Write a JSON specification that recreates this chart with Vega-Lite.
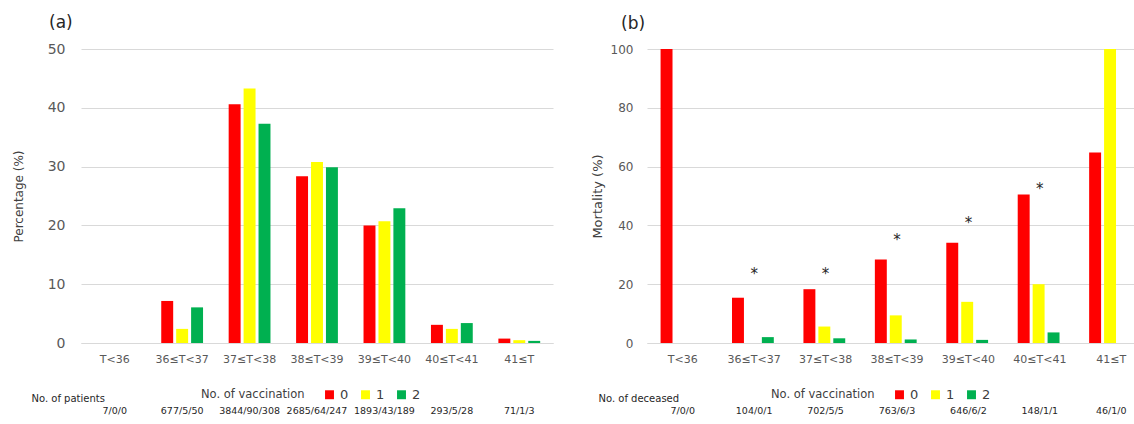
{
  "$schema": "https://vega.github.io/schema/vega-lite/v6.json",
  "background": "white",
  "padding": {"left": 12, "top": 14, "right": 0, "bottom": 0},
  "spacing": 38,
  "config": {
    "view": {"stroke": null},
    "font": "DejaVu Sans",
    "axis": {"labelColor": "#595959", "titleColor": "#404040", "gridColor": "#D9D9D9", "domainColor": "#D9D9D9", "ticks": false, "titleFontWeight": "normal"},
    "legend": {"titleFontWeight": "normal", "titleColor": "#404040", "labelColor": "#404040"},
    "title": {"fontWeight": "normal", "color": "#262626"}
  },
  "datasets": {
    "pct": [
      {"cat": "T<36", "vac": "0", "value": 0},
      {"cat": "T<36", "vac": "1", "value": 0},
      {"cat": "T<36", "vac": "2", "value": 0},
      {"cat": "36≤T<37", "vac": "0", "value": 7.15},
      {"cat": "36≤T<37", "vac": "1", "value": 2.4},
      {"cat": "36≤T<37", "vac": "2", "value": 6.06},
      {"cat": "37≤T<38", "vac": "0", "value": 40.6},
      {"cat": "37≤T<38", "vac": "1", "value": 43.3},
      {"cat": "37≤T<38", "vac": "2", "value": 37.3},
      {"cat": "38≤T<39", "vac": "0", "value": 28.35},
      {"cat": "38≤T<39", "vac": "1", "value": 30.8},
      {"cat": "38≤T<39", "vac": "2", "value": 29.9},
      {"cat": "39≤T<40", "vac": "0", "value": 20.0},
      {"cat": "39≤T<40", "vac": "1", "value": 20.7},
      {"cat": "39≤T<40", "vac": "2", "value": 22.9},
      {"cat": "40≤T<41", "vac": "0", "value": 3.09},
      {"cat": "40≤T<41", "vac": "1", "value": 2.4},
      {"cat": "40≤T<41", "vac": "2", "value": 3.39},
      {"cat": "41≤T", "vac": "0", "value": 0.75},
      {"cat": "41≤T", "vac": "1", "value": 0.48},
      {"cat": "41≤T", "vac": "2", "value": 0.36}
    ],
    "mort": [
      {"cat": "T<36", "vac": "0", "value": 100},
      {"cat": "36≤T<37", "vac": "0", "value": 15.4},
      {"cat": "36≤T<37", "vac": "1", "value": 0},
      {"cat": "36≤T<37", "vac": "2", "value": 2.0},
      {"cat": "37≤T<38", "vac": "0", "value": 18.3},
      {"cat": "37≤T<38", "vac": "1", "value": 5.6},
      {"cat": "37≤T<38", "vac": "2", "value": 1.6},
      {"cat": "38≤T<39", "vac": "0", "value": 28.4},
      {"cat": "38≤T<39", "vac": "1", "value": 9.4},
      {"cat": "38≤T<39", "vac": "2", "value": 1.2},
      {"cat": "39≤T<40", "vac": "0", "value": 34.1},
      {"cat": "39≤T<40", "vac": "1", "value": 14.0},
      {"cat": "39≤T<40", "vac": "2", "value": 1.06},
      {"cat": "40≤T<41", "vac": "0", "value": 50.5},
      {"cat": "40≤T<41", "vac": "1", "value": 20.0},
      {"cat": "40≤T<41", "vac": "2", "value": 3.6},
      {"cat": "41≤T", "vac": "0", "value": 64.8},
      {"cat": "41≤T", "vac": "1", "value": 100},
      {"cat": "41≤T", "vac": "2", "value": 0}
    ],
    "npat": [
      {"cat": "T<36", "n": "7/0/0"},
      {"cat": "36≤T<37", "n": "677/5/50"},
      {"cat": "37≤T<38", "n": "3844/90/308"},
      {"cat": "38≤T<39", "n": "2685/64/247"},
      {"cat": "39≤T<40", "n": "1893/43/189"},
      {"cat": "40≤T<41", "n": "293/5/28"},
      {"cat": "41≤T", "n": "71/1/3"}
    ],
    "ndec": [
      {"cat": "T<36", "n": "7/0/0"},
      {"cat": "36≤T<37", "n": "104/0/1"},
      {"cat": "37≤T<38", "n": "702/5/5"},
      {"cat": "38≤T<39", "n": "763/6/3"},
      {"cat": "39≤T<40", "n": "646/6/2"},
      {"cat": "40≤T<41", "n": "148/1/1"},
      {"cat": "41≤T", "n": "46/1/0"}
    ],
    "star": [
      {"cat": "36≤T<37", "y": 24.5},
      {"cat": "37≤T<38", "y": 24.5},
      {"cat": "38≤T<39", "y": 36},
      {"cat": "39≤T<40", "y": 42},
      {"cat": "40≤T<41", "y": 53.5}
    ]
  },
  "resolve": {"scale": {"color": "independent", "x": "independent", "y": "independent"}, "legend": {"color": "independent"}},
  "hconcat": [
    {
      "width": 472,
      "height": 294,
      "title": {"text": "(a)", "anchor": "start", "frame": "group", "dx": -32, "fontSize": 17, "offset": 10},
      "layer": [
        {
          "data": {"name": "pct"},
          "mark": {"type": "bar"},
          "encoding": {
            "x": {"field": "cat", "type": "nominal", "sort": ["T<36", "36≤T<37", "37≤T<38", "38≤T<39", "39≤T<40", "40≤T<41", "41≤T"],
                  "scale": {"paddingInner": 0.38, "paddingOuter": 0.19},
                  "axis": {"labelAngle": 0, "labelFontSize": 11, "labelPadding": 10, "grid": false, "title": "No. of patients", "titleFontSize": 10, "titleX": -50, "titleY": 55, "titleAlign": "left", "titleBaseline": "middle", "titleColor": "#262626"}},
            "xOffset": {"field": "vac", "type": "nominal", "scale": {"paddingInner": 0.2, "paddingOuter": 0}},
            "y": {"field": "value", "type": "quantitative", "scale": {"domain": [0, 50]},
                  "axis": {"values": [0, 10, 20, 30, 40, 50], "labelFontSize": 14, "labelPadding": 16, "domain": false, "title": "Percentage (%)", "titleFontSize": 12, "titlePadding": 22}},
            "color": {"field": "vac", "type": "nominal", "scale": {"domain": ["0", "1", "2"], "range": ["#FF0000", "#FFFF00", "#00B050"]},
                      "legend": {"orient": "none", "legendX": 120, "legendY": 339, "direction": "horizontal", "title": "No. of vaccination", "titleOrient": "left", "titleFontSize": 11.5, "titlePadding": 18, "labelFontSize": 13, "symbolType": "square", "symbolSize": 80, "symbolStrokeWidth": 0, "columnPadding": 10, "labelOffset": 4}}
          }
        },
        {
          "data": {"name": "npat"},
          "mark": {"type": "text", "fontSize": 9.5, "color": "#262626"},
          "encoding": {
            "x": {"field": "cat", "type": "nominal", "sort": ["T<36", "36≤T<37", "37≤T<38", "38≤T<39", "39≤T<40", "40≤T<41", "41≤T"]},
            "y": {"datum": -11.5, "type": "quantitative"},
            "text": {"field": "n"}
          }
        }
      ]
    },
    {
      "width": 500,
      "height": 294,
      "title": {"text": "(b)", "anchor": "start", "frame": "group", "dx": -26, "fontSize": 17, "offset": 10},
      "layer": [
        {
          "data": {"name": "mort"},
          "mark": {"type": "bar"},
          "encoding": {
            "x": {"field": "cat", "type": "nominal", "sort": ["T<36", "36≤T<37", "37≤T<38", "38≤T<39", "39≤T<40", "40≤T<41", "41≤T"],
                  "scale": {"paddingInner": 0.38, "paddingOuter": 0.19},
                  "axis": {"labelAngle": 0, "labelFontSize": 11, "labelPadding": 10, "grid": false, "title": "No. of deceased", "titleFontSize": 10, "titleX": -49, "titleY": 55, "titleAlign": "left", "titleBaseline": "middle", "titleColor": "#262626"}},
            "xOffset": {"field": "vac", "type": "nominal", "scale": {"domain": ["0", "1", "2"], "paddingInner": 0.2, "paddingOuter": 0}},
            "y": {"field": "value", "type": "quantitative", "scale": {"domain": [0, 100]},
                  "axis": {"values": [0, 20, 40, 60, 80, 100], "labelFontSize": 12, "labelPadding": 14, "domain": false, "title": "Mortality (%)", "titleFontSize": 13, "titlePadding": 6}},
            "color": {"field": "vac", "type": "nominal", "scale": {"domain": ["0", "1", "2"], "range": ["#FF0000", "#FFFF00", "#00B050"]},
                      "legend": {"orient": "none", "legendX": 124, "legendY": 339, "direction": "horizontal", "title": "No. of vaccination", "titleOrient": "left", "titleFontSize": 11.5, "titlePadding": 18, "labelFontSize": 13, "symbolType": "square", "symbolSize": 80, "symbolStrokeWidth": 0, "columnPadding": 10, "labelOffset": 4}}
          }
        },
        {
          "data": {"name": "ndec"},
          "mark": {"type": "text", "fontSize": 9.5, "color": "#262626"},
          "encoding": {
            "x": {"field": "cat", "type": "nominal", "sort": ["T<36", "36≤T<37", "37≤T<38", "38≤T<39", "39≤T<40", "40≤T<41", "41≤T"]},
            "y": {"datum": -23, "type": "quantitative"},
            "text": {"field": "n"}
          }
        },
        {
          "data": {"name": "star"},
          "mark": {"type": "text", "fontSize": 15, "color": "#262626", "baseline": "middle", "dy": 3},
          "encoding": {
            "x": {"field": "cat", "type": "nominal", "sort": ["T<36", "36≤T<37", "37≤T<38", "38≤T<39", "39≤T<40", "40≤T<41", "41≤T"]},
            "y": {"field": "y", "type": "quantitative"},
            "text": {"value": "*"}
          }
        }
      ]
    }
  ]
}
